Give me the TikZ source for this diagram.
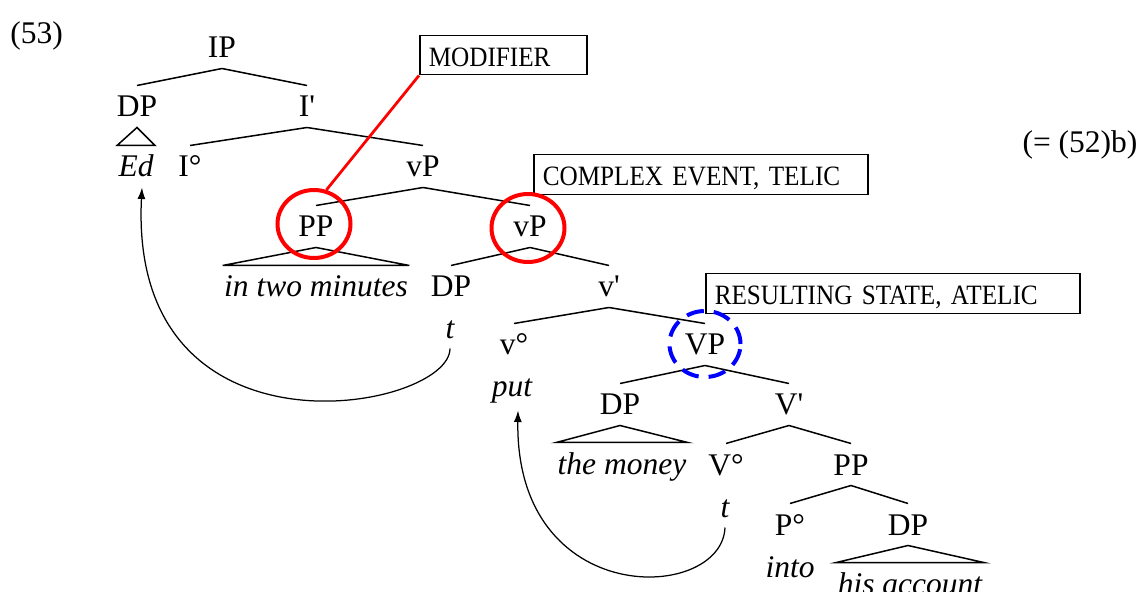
\documentclass[tikz,border=0pt]{standalone}
\usepackage{fontspec}
\setmainfont{Liberation Serif}
\newfontfamily\boxfont[FakeStretch=0.9]{Liberation Serif}
\usetikzlibrary{shapes.geometric,arrows.meta,calc}
\begin{document}
\begin{tikzpicture}[x=0.4pt,y=-0.4pt,
  lab/.style={font=\fontsize{12.6}{15}\selectfont, inner xsep=0pt, inner ysep=1.6pt,
    text height=10.8pt, text depth=2.4pt, anchor=base},
  leaf/.style={lab, font=\fontsize{12.6}{15}\selectfont\itshape},
  tri/.style={leaf, inner xsep=0.4pt},
  br/.style={line width=0.6pt},
  tagbox/.style={draw, line width=0.6pt, anchor=north west,
    font=\boxfont\fontsize{11.2}{13}\selectfont, align=left,
    inner xsep=3.6pt, inner ysep=0pt, text height=8.7pt, text depth=0pt},
  redring/.style={draw=red, line width=1.6pt, ellipse, inner sep=0pt,
    minimum width=29.2pt, minimum height=27.2pt},
  bluering/.style={draw=blue, line width=1.6pt, ellipse, inner sep=0pt,
    minimum width=28.4pt, minimum height=26.4pt, dash pattern=on 7pt off 4pt},
  arr/.style={line width=0.5pt, -{Latex[length=4.6pt,width=3.2pt]}},
  plain/.style={font=\fontsize{12.6}{15}\selectfont, inner sep=0pt, anchor=base west}
]
\useasboundingbox (0,0) rectangle (1140,592);

% labels
\node[plain] (n53) at (10,44) {(53)};
\node[plain] (eq) at (1022,153) {(= (52)b)};

% tree nodes
\node[lab] (IP) at (222,58) {IP};
\node[lab] (DP1) at (137,117) {DP};
\node[lab] (Ibar) at (307,117) {I\textquotesingle};
\node[tri] (Ed) at (136,177) {Ed};
\node[lab] (I0) at (190,177) {I°};
\node[lab] (vP1) at (423,177) {vP};
\node[lab] (PP1) at (316,237) {PP};
\node[lab] (vP2) at (530,237) {vP};
\node[tri] (itm) at (316,297) {in two minutes};
\node[lab] (DP2) at (451,297) {DP};
\node[lab] (vbar) at (609,297) {v\textquotesingle};
\node[leaf] (t1) at (450,338) {t};
\node[lab] (v0) at (514,355) {v°};
\node[lab] (VP) at (705,355) {VP};
\node[leaf] (put) at (512,396) {put};
\node[lab] (DP3) at (620,415) {DP};
\node[lab] (Vbar) at (789,415) {V\textquotesingle};
\node[tri] (money) at (622,474) {the money};
\node[lab] (V0) at (726,475) {V°};
\node[lab] (PP2) at (851,475) {PP};
\node[leaf] (t2) at (725,517) {t};
\node[lab] (P0) at (790,535) {P°};
\node[lab] (DP4) at (908,535) {DP};
\node[leaf] (into) at (790,577) {into};
\node[tri] (acct) at (910,594) {his account};

% branches
\draw[br] (IP.south) -- (DP1.north);
\draw[br] (IP.south) -- (Ibar.north);
\draw[br] (DP1.south) -- (Ed.north west) -- (Ed.north east) -- cycle;
\draw[br] (Ibar.south) -- (I0.north);
\draw[br] (Ibar.south) -- (vP1.north);
\draw[br] (vP1.south) -- (PP1.north);
\draw[br] (vP1.south) -- (vP2.north);
\draw[br] (PP1.south) -- (itm.north west) -- (itm.north east) -- cycle;
\draw[br] (vP2.south) -- (DP2.north);
\draw[br] (vP2.south) -- (vbar.north);
\draw[br] (vbar.south) -- (v0.north);
\draw[br] (vbar.south) -- (VP.north);
\draw[br] (VP.south) -- (DP3.north);
\draw[br] (VP.south) -- (Vbar.north);
\draw[br] (DP3.south) -- (money.north west) -- (money.north east) -- cycle;
\draw[br] (Vbar.south) -- (V0.north);
\draw[br] (Vbar.south) -- (PP2.north);
\draw[br] (PP2.south) -- (P0.north);
\draw[br] (PP2.south) -- (DP4.north);
\draw[br] (DP4.south) -- (acct.north west) -- (acct.north east) -- cycle;

% movement arrows
\draw[arr] (t1.south) .. controls +(0,62) and +(-14,283) .. ($(Ed.south)+(6,0)$);
\draw[arr] (t2.south) .. controls +(-3,75) and +(-3,200) .. ($(put.south)+(6,4)$);

% boxes
\node[tagbox, text width=59.6pt, minimum height=15.6pt] (mod) at (419,35) {MODIFIER};
\node[tagbox, text width=126.4pt, minimum height=16pt] (cet) at (533,154) {COMPLEX EVENT, TELIC};
\node[tagbox, text width=142.4pt, minimum height=16pt] (rsa) at (705,273) {RESULTING STATE, ATELIC};

% rings
\node[redring] (cPP) at ($(PP1.base)+(-2,-13)$) {};
\node[redring] (cvP) at ($(vP2.base)+(-2,-9)$) {};
\node[bluering] (cVP) at ($(VP.base)+(0,-11)$) {};
\draw[red, line width=1.1pt] (mod.south west) -- (cPP.70);
\end{tikzpicture}
\end{document}
